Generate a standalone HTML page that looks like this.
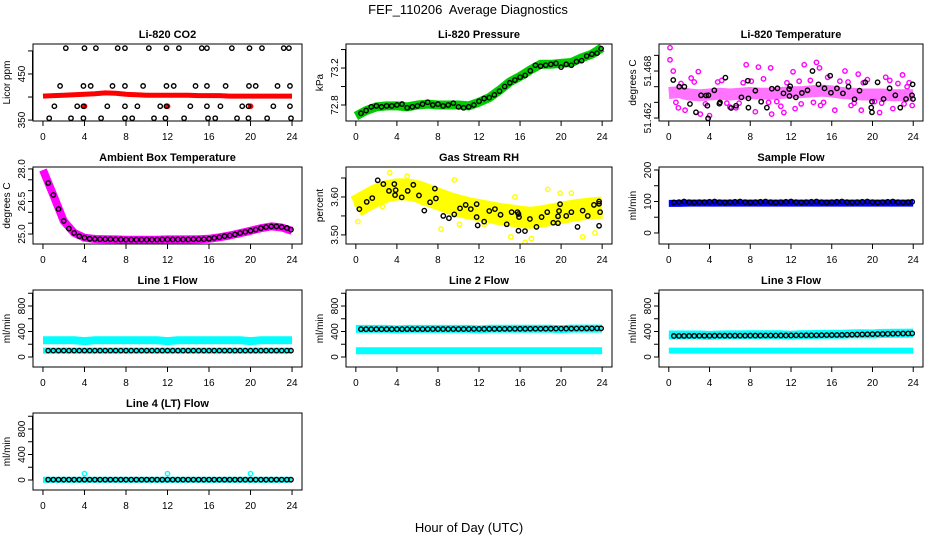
<!DOCTYPE html>
<html><head><meta charset="utf-8"><style>
html,body{margin:0;padding:0;background:#fff;}
svg{display:block;font-family:"Liberation Sans",Arial,sans-serif;}
</style></head><body>
<svg id="chart" width="936" height="540" viewBox="0 0 936 540" xmlns="http://www.w3.org/2000/svg">
<rect x="0" y="0" width="936" height="540" fill="#fff"/>
<text x="468" y="14" font-size="13" text-anchor="middle" xml:space="preserve">FEF_110206  Average Diagnostics</text>
<text x="469" y="532" font-size="13" text-anchor="middle">Hour of Day (UTC)</text>
</svg>
<script>
// ---------- data ----------
const xTicks = [0,4,8,12,16,20,24];
const hourly = [0,1,2,3,4,5,6,7,8,9,10,11,12,13,14,15,16,17,18,19,20,21,22,23,24];
const halfHours = [0.5,1,1.5,2,2.5,3,3.5,4,4.5,5,5.5,6,6.5,7,7.5,8,8.5,9,9.5,10,10.5,11,11.5,12,12.5,13,13.5,14,14.5,15,15.5,16,16.5,17,17.5,18,18.5,19,19.5,20,20.5,21,21.5,22,22.5,23,23.5,23.9];

// CO2
const co2Band = [402,403,404,405,406,407,409,408,406,405,404,404,404,404,404,403,403,403,402,402,402,402,402,402,402];
const co2BlackHours = [2.2,4.0,5.1,7.2,7.9,10.2,11.9,13.1,15.3,15.8,18.2,19.9,21.1,23.2,23.7,
 1.65,3.9,4.6,6.7,7.9,9.65,11.9,12.6,14.7,15.8,17.6,19.85,20.5,22.6,23.8,
 1.1,3.3,3.9,6.2,7.9,9.1,11.3,11.9,14.2,15.8,17.1,19.2,19.8,22.2,23.8,
 0.6,2.7,3.9,5.6,7.9,8.6,10.7,11.8,13.6,15.9,16.6,18.7,19.8,21.6,23.9];
const co2BlackVals = [506,506,506,506,506,506,506,506,506,506,506,506,506,506,506,
 424,424,424,424,424,424,424,424,424,424,424,424,424,424,424,
 380,380,380,380,380,380,380,380,380,380,380,380,380,380,380,
 354,354,354,354,354,354,354,354,354,354,354,354,354,354,354];
const co2RedHours = [4,12,20];
const co2RedVals = [380,380,380];

// Pressure
const pressBand = [72.68,72.74,72.78,72.79,72.79,72.78,72.80,72.81,72.80,72.80,72.80,72.79,72.83,72.88,72.96,73.05,73.11,73.18,73.24,73.24,73.25,73.26,73.31,73.35,73.42];
const pressBlack = [72.71,72.74,72.78,72.79,72.78,72.79,72.79,72.80,72.81,72.77,72.78,72.79,72.81,72.83,72.80,72.81,72.79,72.80,72.82,72.78,72.77,72.78,72.80,72.84,72.87,72.88,72.91,72.95,73.00,73.04,73.07,73.10,73.12,73.17,73.23,73.22,73.23,73.24,73.25,73.21,73.24,73.23,73.27,73.28,73.33,73.35,73.36,73.41];

// Li-820 temperature
const tempBand = [51.4652,51.4653,51.4650,51.4649,51.4650,51.4651,51.4650,51.4651,51.4652,51.4651,51.4651,51.4652,51.4653,51.4653,51.4654,51.4655,51.4654,51.4652,51.4651,51.4650,51.4650,51.4650,51.4649,51.4649,51.4649];
const tempPinkHours = [0.12,0.12,0.44,2.9,7.6,8.8,10.0,13.3,14.5,14.8,12.2,17.3,18.6,22.95,21.7,23.4,0.94,1.6,3.1,4.0,6.6,8.5,10.1,11.3,12.4,14.9,16.3,18.9,20.7,22.0,23.9,5.2,9.3,15.6,19.5,2.2,6.0,11.0,17.9,21.3,1.2,3.6,4.8,6.9,8.1,9.8,11.6,13.0,13.9,15.2,16.8,18.2,19.1,20.2,22.5,23.1,0.7,2.5,5.7,7.3,10.6,12.8,14.2,17.6,20.9,23.6];
const tempPinkVals = [51.47097,51.46943,51.4680,51.46792,51.4688,51.4685,51.4684,51.4688,51.4691,51.4684,51.4679,51.4680,51.4676,51.4675,51.4668,51.4660,51.4633,51.4630,51.4625,51.4623,51.4633,51.4628,51.4625,51.4627,51.4632,51.4636,51.4630,51.4630,51.4627,51.4632,51.4636,51.4668,51.4670,51.4672,51.4669,51.4671,51.4634,51.4635,51.4636,51.4672,51.4664,51.4638,51.4666,51.4639,51.4667,51.4640,51.4665,51.4638,51.4668,51.4640,51.4667,51.4639,51.4665,51.4641,51.4664,51.4638,51.4640,51.4666,51.4639,51.4665,51.4641,51.4667,51.4640,51.4666,51.4639,51.4665];
const tempBlackHours = [0.44,1.03,1.53,2.08,2.67,3.17,3.66,3.79,3.89,3.86,4.47,4.97,5.03,5.56,6.12,6.61,7.13,7.76,7.82,7.82,8.5,9.07,9.63,10.12,10.67,11.26,11.82,11.85,11.92,12.48,13.07,13.62,14.11,14.7,15.29,15.85,15.92,16.51,17.1,17.65,18.24,18.73,19.29,19.88,19.95,19.95,20.5,21.09,21.68,22.24,22.73,23.29,23.88,23.94,23.98];
const tempBlackVals = [51.46685,51.4660,51.4660,51.46379,51.46273,51.4649,51.46488,51.46357,51.4649,51.46196,51.46554,51.46383,51.4640,51.46715,51.46328,51.46357,51.46464,51.46676,51.46451,51.46332,51.46549,51.46408,51.46332,51.46574,51.46579,51.46515,51.4657,51.46481,51.46605,51.46464,51.4652,51.46554,51.4680,51.4663,51.46579,51.4674,51.46523,51.46579,51.46515,51.4660,51.46439,51.46549,51.46656,51.46332,51.46273,51.46408,51.46656,51.46443,51.46579,51.4649,51.46332,51.46443,51.4649,51.4663,51.46443];

// Ambient box temperature
const ambBand = [27.95,26.8,25.6,25.05,24.83,24.77,24.76,24.75,24.74,24.74,24.74,24.74,24.75,24.75,24.75,24.76,24.78,24.85,24.93,25.04,25.15,25.27,25.35,25.3,25.15];
const ambBlack = [27.35,26.8,26.15,25.6,25.25,25.05,24.9,24.83,24.78,24.77,24.76,24.76,24.76,24.75,24.75,24.74,24.74,24.74,24.74,24.74,24.74,24.74,24.75,24.75,24.75,24.75,24.75,24.75,24.76,24.76,24.76,24.78,24.82,24.85,24.9,24.93,24.98,25.04,25.1,25.15,25.2,25.27,25.32,25.35,25.35,25.32,25.28,25.2];

// Gas stream RH
const rhBand = [3.575,3.59,3.605,3.615,3.62,3.62,3.615,3.605,3.595,3.585,3.577,3.57,3.565,3.56,3.555,3.552,3.548,3.545,3.548,3.553,3.558,3.563,3.567,3.57,3.572];
const rhYellowHours = [0.1,0.2,3.3,5.0,8.3,10.1,9.6,15.1,16.5,17.1,19.9,22.1,23.3,18.7,7.9,15.5,2.6,12.5,21.0,6.5];
const rhYellowVals = [3.58,3.535,3.664,3.655,3.515,3.528,3.645,3.495,3.48,3.49,3.61,3.495,3.505,3.62,3.615,3.60,3.575,3.528,3.61,3.585];
const rhBlackHours = [0.34,1.06,1.6,2.13,2.68,3.23,3.75,3.88,3.82,4.47,5.05,5.6,6.15,6.67,7.23,7.7,7.8,8.52,9.07,9.59,10.15,10.7,11.2,11.77,11.77,11.87,12.5,13.0,13.55,14.1,14.7,15.18,15.75,15.85,15.85,15.9,16.48,16.96,17.6,18.1,18.65,19.24,19.7,19.7,19.8,19.9,20.5,21.0,21.6,22.1,22.6,23.2,23.7,23.7,23.8,23.7];
const rhBlackVals = [3.568,3.587,3.597,3.644,3.634,3.616,3.634,3.618,3.605,3.599,3.616,3.632,3.604,3.564,3.586,3.622,3.596,3.55,3.544,3.554,3.570,3.579,3.568,3.581,3.547,3.525,3.535,3.563,3.568,3.553,3.528,3.56,3.56,3.555,3.511,3.547,3.51,3.542,3.521,3.547,3.56,3.532,3.549,3.531,3.563,3.581,3.55,3.56,3.521,3.564,3.55,3.579,3.588,3.582,3.56,3.524];

// Flows
const sampleBand = [94,94,95,95,95,95,95,95,95,95,95,95,95,95,95,95,95,95,95,95,95,95,95,95,95];
const sampleBlack = [97,98,100,98,97,98,98,99,100,98,97,98,99,100,98,97,98,99,100,98,97,98,99,100,98,97,98,99,100,98,97,98,99,100,98,97,98,99,100,98,97,98,99,100,98,97,98,99];
const line1CyanHigh = [262,262,262,262,250,262,262,262,262,262,262,262,250,262,262,262,262,262,262,262,250,262,262,262,262];
const line1CyanLow = [100,100,100,100,100,100,100,100,100,100,100,100,100,100,100,100,100,100,100,100,100,100,100,100,100];
const line1Black = [100,100,100,100,100,100,100,100,100,100,100,100,100,100,100,100,100,100,100,100,100,100,100,100,100,100,100,100,100,100,100,100,100,100,100,100,100,100,100,100,100,100,100,100,100,100,100,100];
const line2CyanHigh = [440,440,440,440,432,440,440,440,440,440,440,440,432,442,442,442,444,444,444,444,436,446,446,446,446];
const line2CyanLow = [98,98,98,98,98,98,98,98,98,98,98,98,98,98,98,98,98,98,98,98,98,98,98,98,98];
const line2Black = [436,436,436,436,436,436,436,436,437,437,437,437,437,437,438,438,438,438,438,438,438,438,439,439,440,440,440,440,441,441,441,442,442,443,443,443,444,444,445,445,446,446,447,447,448,448,449,449];
const line3CyanHigh = [345,345,345,345,338,345,346,347,348,348,348,348,340,350,352,354,356,358,362,366,360,370,372,374,375];
const line3CyanLow = [100,100,100,100,100,100,100,100,100,100,100,100,100,100,100,100,100,100,100,100,100,100,100,100,100];
const line3Black = [330,331,331,332,332,333,333,333,334,334,334,334,335,335,335,336,336,336,337,337,337,338,338,338,339,339,340,340,341,342,343,344,345,346,348,350,352,354,356,358,360,362,364,366,367,368,369,370];
const line4Cyan = [5,5,5,5,5,5,5,5,5,5,5,5,5,5,5,5,5,5,5,5,5,5,5,5,5];
const line4Black = [5,5,5,5,5,5,5,5,5,5,5,5,5,5,5,5,5,5,5,5,5,5,5,5,5,5,5,5,5,5,5,5,5,5,5,5,5,5,5,5,5,5,5,5,5,5,5,5];
const line4OutHours = [4,12,20];
const line4OutVals = [100,100,100];

// ---------- drawing ----------
const NS = "http://www.w3.org/2000/svg";
const svg = document.getElementById("chart");
const cols = [{L:33,R:302},{L:346,R:612},{L:659,R:923}];
const rowTops = [44,167,290,413];
const PH = 77;

function mk(tag, attrs, parent) {
  const e = document.createElementNS(NS, tag);
  for (const k in attrs) e.setAttribute(k, attrs[k]);
  (parent || svg).appendChild(e);
  return e;
}

function panel(cfg) {
  const c = cols[cfg.col], T = rowTops[cfg.row], B = T + PH;
  const g = mk("g", {});
  
  
  const xs = h => c.L + (h + 0.96) / 25.92 * (c.R - c.L);
  const ys = v => B - (v - cfg.ylim[0]) / (cfg.ylim[1] - cfg.ylim[0]) * PH;
  const t = mk("text", {x:(c.L+c.R)/2, y:T-6, "font-size":11, "font-weight":"bold", "text-anchor":"middle"}, g);
  t.textContent = cfg.title;
  
  
  const yl = mk("text", {x:0, y:0, "font-size":10, "text-anchor":"middle", transform:`translate(${c.L-23},${(T+B)/2}) rotate(-90)`}, g);
  yl.textContent = cfg.ylab;
  
  
  const xa = mk("g", {stroke:"#000", "stroke-width":1}, g);
  
  
  xTicks.forEach(v => {
    mk("line", {x1:xs(v), x2:xs(v), y1:B, y2:B+5}, xa);
    const tx = mk("text", {x:xs(v), y:B+19, "font-size":10, "text-anchor":"middle", stroke:"none"}, xa);
    tx.textContent = v;
  });
  const ya = mk("g", {stroke:"#000", "stroke-width":1}, g);
  
  
  mk("line", {x1:c.L-0.5, x2:c.L-0.5, y1:ys(cfg.ticks[0]), y2:ys(cfg.ticks[cfg.ticks.length-1])}, ya);
  cfg.ticks.forEach((v,i) => {
    mk("line", {x1:c.L-5, x2:c.L, y1:ys(v), y2:ys(v)}, ya);
    if (cfg.labels[i]) {
      const ty = mk("text", {x:0, y:0, "font-size":10, "text-anchor":"middle", stroke:"none", transform:`translate(${c.L-8},${ys(v)}) rotate(-90)`}, ya);
      ty.textContent = cfg.labels[i];
    }
  });
  const clipId = "clip-" + cfg.name;
  const cp = mk("clipPath", {id:clipId}, g);
  mk("rect", {x:c.L, y:T, width:c.R-c.L, height:PH}, cp);
  const plot = mk("g", {"clip-path":`url(#${clipId})`}, g);
  cfg.draw(plot, xs, ys);
  const box = mk("rect", {x:c.L, y:T, width:c.R-c.L, height:PH, fill:"none", stroke:"#000", "stroke-width":1}, g);
  
  
}

function band(p, xs, ys, hrs, vals, color, w, name, op) {
  const d = hrs.map((h,i) => (i ? "L" : "M") + xs(h).toFixed(1) + "," + ys(vals[i]).toFixed(1)).join(" ");
  const e = mk("path", {d:d, fill:"none", stroke:color, "stroke-width":w, "stroke-linecap":"butt", "stroke-linejoin":"round", opacity:op || 1}, p);
  
  
}
function pts(p, xs, ys, hrs, vals, color, name, fill) {
  const g = mk("g", {}, p);
  
  
  hrs.forEach((h,i) => {
    const c = mk("circle", {cx:xs(h), cy:ys(vals[i]), r:2.2, fill:fill ? color : "none", stroke:color, "stroke-width":1.4}, g);
    
    
  });
}

const flowTicks = [0,200,400,600,800,1000];
const flowLabels = ["0","","400","","800",""];
const flowLim = [-157,1051];

panel({name:"co2", col:0, row:0, title:"Li-820 CO2", ylab:"Licor ppm", ylim:[348,515], ticks:[350,400,450,500], labels:["350","","450",""],
  draw:(p,xs,ys)=>{ band(p,xs,ys,hourly,co2Band,"#ff0000",5,"co2-band");
    pts(p,xs,ys,co2RedHours,co2RedVals,"#ff0000","co2-red-points",true);
    pts(p,xs,ys,co2BlackHours,co2BlackVals,"#000","co2-average-points"); }});
panel({name:"pressure", col:1, row:0, title:"Li-820 Pressure", ylab:"kPa", ylim:[72.627,73.46], ticks:[72.8,73.0,73.2,73.4], labels:["72.8","","73.2",""],
  draw:(p,xs,ys)=>{ band(p,xs,ys,hourly,pressBand,"#00cd00",9,"pressure-band");
    pts(p,xs,ys,halfHours,pressBlack,"#000","pressure-average-points"); }});
panel({name:"li820-temp", col:2, row:0, title:"Li-820 Temperature", ylab:"degrees C", ylim:[51.46162,51.47145], ticks:[51.462,51.464,51.466,51.468,51.470], labels:["51.462","","","51.468",""],
  draw:(p,xs,ys)=>{ band(p,xs,ys,hourly,tempBand,"#ff00ff",12,"temp-band",0.55);
    pts(p,xs,ys,tempPinkHours,tempPinkVals,"#ff00ff","temp-raw-points");
    pts(p,xs,ys,tempBlackHours,tempBlackVals,"#000","temp-average-points"); }});
panel({name:"ambient-temp", col:0, row:1, title:"Ambient Box Temperature", ylab:"degrees C", ylim:[24.54,28.09], ticks:[25,25.5,26,26.5,27,27.5,28], labels:["25.0","","","26.5","","","28.0"],
  draw:(p,xs,ys)=>{ band(p,xs,ys,hourly,ambBand,"#ff00ff",8,"ambient-band");
    pts(p,xs,ys,halfHours,ambBlack,"#000","ambient-average-points"); }});
panel({name:"gas-rh", col:1, row:1, title:"Gas Stream RH", ylab:"percent", ylim:[3.476,3.679], ticks:[3.50,3.55,3.60,3.65], labels:["3.50","","3.60",""],
  draw:(p,xs,ys)=>{ band(p,xs,ys,hourly,rhBand,"#ffff00",22,"rh-band");
    pts(p,xs,ys,rhYellowHours,rhYellowVals,"#ffff00","rh-raw-points");
    pts(p,xs,ys,rhBlackHours,rhBlackVals,"#000","rh-average-points"); }});
panel({name:"sample-flow", col:2, row:1, title:"Sample Flow", ylab:"ml/min", ylim:[-35,209.5], ticks:[0,50,100,150,200], labels:["0","","100","","200"],
  draw:(p,xs,ys)=>{ band(p,xs,ys,hourly,sampleBand,"#0000ff",7,"sample-band");
    pts(p,xs,ys,halfHours,sampleBlack,"#000","sample-average-points"); }});
panel({name:"line1-flow", col:0, row:2, title:"Line 1 Flow", ylab:"ml/min", ylim:flowLim, ticks:flowTicks, labels:flowLabels,
  draw:(p,xs,ys)=>{ band(p,xs,ys,hourly,line1CyanHigh,"#00ffff",8,"line1-high-band");
    band(p,xs,ys,hourly,line1CyanLow,"#00ffff",6,"line1-low-band");
    pts(p,xs,ys,halfHours,line1Black,"#000","line1-average-points"); }});
panel({name:"line2-flow", col:1, row:2, title:"Line 2 Flow", ylab:"ml/min", ylim:flowLim, ticks:flowTicks, labels:flowLabels,
  draw:(p,xs,ys)=>{ band(p,xs,ys,hourly,line2CyanHigh,"#00ffff",8,"line2-high-band");
    band(p,xs,ys,hourly,line2CyanLow,"#00ffff",7,"line2-low-band");
    pts(p,xs,ys,halfHours,line2Black,"#000","line2-average-points"); }});
panel({name:"line3-flow", col:2, row:2, title:"Line 3 Flow", ylab:"ml/min", ylim:flowLim, ticks:flowTicks, labels:flowLabels,
  draw:(p,xs,ys)=>{ band(p,xs,ys,hourly,line3CyanHigh,"#00ffff",9,"line3-high-band");
    band(p,xs,ys,hourly,line3CyanLow,"#00ffff",6,"line3-low-band");
    pts(p,xs,ys,halfHours,line3Black,"#000","line3-average-points"); }});
panel({name:"line4-flow", col:0, row:3, title:"Line 4 (LT) Flow", ylab:"ml/min", ylim:flowLim, ticks:flowTicks, labels:flowLabels,
  draw:(p,xs,ys)=>{ band(p,xs,ys,hourly,line4Cyan,"#00ffff",6,"line4-band");
    pts(p,xs,ys,line4OutHours,line4OutVals,"#00ffff","line4-outlier-points");
    pts(p,xs,ys,halfHours,line4Black,"#000","line4-average-points"); }});
</script>
</body></html>
